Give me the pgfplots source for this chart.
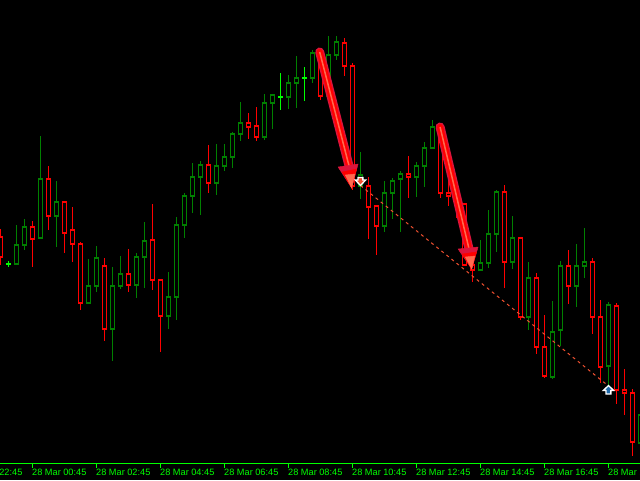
\documentclass[border=0pt]{standalone}
\usepackage{pgfplots}
\pgfplotsset{compat=1.18}
\usepackage{fontspec}
\setmainfont{Liberation Sans}
\definecolor{lime}{HTML}{00FF00}
\definecolor{gc}{HTML}{008000}
\definecolor{rc}{HTML}{FF0000}
\definecolor{cr}{HTML}{DC143C}
\definecolor{sal}{HTML}{FF6A50}
\definecolor{dashc}{HTML}{F05030}
\definecolor{bluem}{HTML}{1E69AA}
\newcommand{\candle}[6]{%
  \pgfmathsetmacro\xl{#2-0.25}\pgfmathsetmacro\xr{#2+0.25}%
  \addplot[#1,line width=1.3pt,line cap=rect] coordinates {(#2,#3)(#2,#6)};
  \addplot[#1,fill=black,line width=1.3pt] coordinates {(\xl,#4)(\xr,#4)(\xr,#5)(\xl,#5)} -- cycle;
}
\newcommand{\G}[5]{\candle{gc}{#1}{#2}{#3}{#4}{#5}}
\newcommand{\R}[5]{\candle{rc}{#1}{#2}{#3}{#4}{#5}}
\newcommand{\D}[4]{%
  \pgfmathsetmacro\xl{#1-0.3}\pgfmathsetmacro\xr{#1+0.3}%
  \addplot[lime,line width=1.3pt] coordinates {(#1,#2)(#1,#4)};
  \addplot[lime,line width=1.3pt] coordinates {(\xl,#3)(\xr,#3)};
}
\begin{document}
\begin{tikzpicture}[x=1pt,y=1pt]
\useasboundingbox (0,-16.5) rectangle (640,463.5);
\clip (0,-16.5) rectangle (640,463.5);
\fill[black] (0,-16.5) rectangle (640,463.5);
\begin{axis}[
  at={(-64pt,0pt)},anchor=south west,
  scale only axis,width=736pt,height=463.5pt,
  xmin=-8.0625,xmax=83.9375,ymin=0,ymax=463.5,
  y dir=reverse,
  axis y line=none,
  axis x line=bottom,
  axis line style={lime,line width=1.3pt,-},
  xtick={-4,4,12,20,28,36,44,52,60,68,76},
  xticklabels={28 Mar 22:45,28 Mar 00:45,28 Mar 02:45,28 Mar 04:45,28 Mar 06:45,28 Mar 08:45,28 Mar 10:45,28 Mar 12:45,28 Mar 14:45,28 Mar 16:45,28 Mar 18:45},
  x tick style={lime,line width=1.3pt},
  tick align=outside,
  major tick length=4pt,
  x tick label style={text=lime,font=\fontsize{9.2}{10}\selectfont,anchor=north west,inner sep=0pt,xshift=-0.5pt,yshift=-1pt},
]
\R{0}{230}{237}{257}{264}
\D{1}{261}{264}{267}
\G{2}{226}{245}{264}{264}
\G{3}{220}{227}{245}{249}
\R{4}{222}{227}{239}{266}
\G{5}{137}{179}{238}{238}
\R{6}{167}{179}{216}{229}
\G{7}{182}{202}{216}{246}
\R{8}{202}{202}{233}{252}
\R{9}{208}{230}{244}{261}
\R{10}{243}{244}{303}{309}
\G{11}{260}{286}{303}{303}
\G{12}{247}{258}{286}{291}
\R{13}{259}{266}{329}{340}
\G{14}{268}{286}{329}{360}
\G{15}{257}{274}{286}{288}
\R{16}{250}{274}{285}{291}
\G{17}{254}{257}{285}{297}
\G{18}{223}{241}{257}{287}
\R{19}{205}{240}{280}{289}
\R{20}{280}{280}{316}{351}
\G{21}{273}{297}{316}{328}
\G{22}{218}{225}{297}{319}
\G{23}{194}{196}{225}{237}
\G{24}{164}{177}{196}{212}
\G{25}{162}{165}{177}{214}
\R{26}{146}{165}{183}{192}
\G{27}{145}{166}{183}{194}
\G{28}{145}{157}{166}{170}
\G{29}{133}{134}{157}{167}
\G{30}{103}{123}{134}{140}
\R{31}{114}{123}{127}{138}
\R{32}{108}{126}{137}{140}
\G{33}{95}{103}{137}{139}
\G{34}{95}{95}{103}{128}
\D{35}{73}{97}{110}
\G{36}{76}{83}{97}{108}
\G{37}{57}{78}{83}{107}
\D{38}{67}{78}{101}
\G{39}{51}{53}{78}{82}
\R{40}{51}{53}{96}{99}
\G{41}{37}{55}{96}{96}
\G{42}{37}{42}{55}{59}
\R{43}{39}{43}{66}{75}
\R{44}{64}{66}{186}{189}
\G{45}{153}{175}{186}{198}
\R{46}{178}{186}{207}{238}
\R{47}{206}{206}{226}{254}
\G{48}{182}{193}{226}{231}
\G{49}{179}{181}{193}{218}
\G{50}{172}{174}{179}{231}
\R{51}{157}{174}{177}{197}
\G{52}{163}{166}{177}{196}
\G{53}{143}{148}{166}{186}
\G{54}{121}{127}{148}{148}
\R{55}{124}{127}{193}{197}
\R{56}{181}{193}{196}{205}
\R{57}{196}{197}{204}{217}
\R{58}{204}{204}{265}{265}
\R{59}{261}{265}{270}{281}
\G{60}{241}{263}{270}{270}
\G{61}{211}{234}{263}{267}
\G{62}{191}{192}{234}{251}
\R{63}{186}{192}{262}{287}
\G{64}{217}{238}{262}{268}
\R{65}{238}{238}{317}{319}
\G{66}{263}{278}{317}{329}
\R{67}{274}{278}{347}{353}
\R{68}{316}{347}{376}{377}
\G{69}{302}{332}{377}{378}
\G{70}{262}{266}{330}{345}
\R{71}{251}{266}{286}{303}
\G{72}{245}{266}{286}{306}
\G{73}{229}{262}{266}{277}
\R{74}{259}{262}{317}{333}
\R{75}{301}{317}{367}{382}
\G{76}{303}{305}{366}{386}
\R{77}{304}{306}{390}{403}
\R{78}{370}{390}{393}{414}
\R{79}{390}{393}{442}{455}
\G{80}{410}{415}{443}{450}
% dashed trend line
\addplot[dashc,line width=1pt,dash pattern=on 3pt off 3.5pt] coordinates {(45,185.5)(76,386)};
% arrows
\addplot[cr,line width=9pt,line cap=round] coordinates {(39.9,52)(43.7,170)};
\addplot[rc,line width=6pt,line cap=round] coordinates {(39.9,52)(43.7,170)};
\addplot[sal,line width=1.5pt] coordinates {(39.9,52)(43.7,170)};
\addplot[cr,fill=cr] coordinates {(42.2,167)(44.7,164)(43.9,188)} -- cycle;
\addplot[rc,fill=rc] coordinates {(42.7,172)(44.5,169)(43.9,188)} -- cycle;
\addplot[sal,fill=sal] coordinates {(43.1,175)(44.3,174)(43.9,188)} -- cycle;
\addplot[cr,line width=9pt,line cap=round] coordinates {(54.95,127)(58.6,250)};
\addplot[rc,line width=6pt,line cap=round] coordinates {(54.95,127)(58.6,250)};
\addplot[sal,line width=1.5pt] coordinates {(54.95,127)(58.6,250)};
\addplot[cr,fill=cr] coordinates {(57.2,249)(59.7,247)(58.9,269)} -- cycle;
\addplot[rc,fill=rc] coordinates {(57.7,254)(59.5,252)(58.9,269)} -- cycle;
\addplot[sal,fill=sal] coordinates {(58.1,257)(59.3,256)(58.9,269)} -- cycle;
% markers
\addplot[white,fill=dashc,line width=1.3pt] coordinates {(44.7,177.5)(45.3,177.5)(45.3,180)(45.65,180)(45,185.5)(44.35,180)(44.7,180)} -- cycle;
\addplot[white,fill=bluem,line width=1.3pt] coordinates {(76,385.5)(76.65,390.5)(76.3,390.5)(76.3,394)(75.7,394)(75.7,390.5)(75.35,390.5)} -- cycle;
\end{axis}
\end{tikzpicture}
\end{document}
